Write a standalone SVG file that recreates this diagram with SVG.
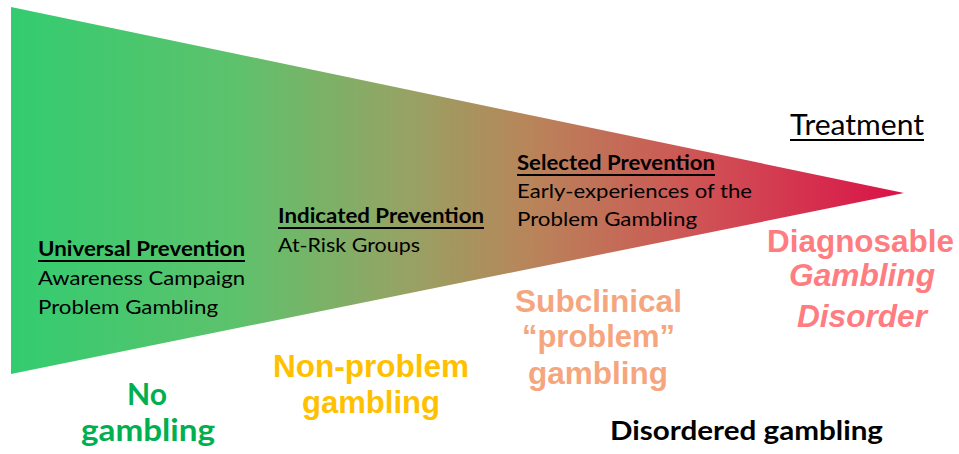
<svg xmlns="http://www.w3.org/2000/svg" width="959" height="454" viewBox="0 0 959 454">
  <defs>
    <linearGradient id="funnelGrad" gradientUnits="userSpaceOnUse" x1="11" y1="0" x2="904" y2="0">
      <stop offset="0" stop-color="#33cc70"/>
      <stop offset="0.25" stop-color="#5dc26c"/>
      <stop offset="0.44" stop-color="#96a364"/>
      <stop offset="0.58" stop-color="#b8855a"/>
      <stop offset="0.77" stop-color="#cf5355"/>
      <stop offset="1" stop-color="#da1248"/>
    </linearGradient>
  </defs>
  <style>
    .cal { font-family: Lato, "Open Sans", "Liberation Sans", sans-serif; fill: #000; }
    .hd { font-size: 20px; font-weight: bold; }
    .bd { font-size: 20px; }
    .big { font-family: "Liberation Sans", Arial, sans-serif; font-weight: bold; font-size: 31px; }
    .ul { stroke: #000; stroke-width: 2; }
  </style>
  <rect width="959" height="454" fill="#fff"/>
  <g id="funnel">
    <polygon points="11,7 904,193 11,374" fill="url(#funnelGrad)"/>
  </g>
  <g id="universal">
    <text class="cal hd" x="38" y="256" textLength="207" lengthAdjust="spacingAndGlyphs">Universal Prevention</text>
    <line class="ul" x1="38" y1="261" x2="245" y2="261"/>
    <text class="cal bd" x="38" y="285" textLength="207" lengthAdjust="spacingAndGlyphs">Awareness Campaign</text>
    <text class="cal bd" x="38" y="314" textLength="180" lengthAdjust="spacingAndGlyphs">Problem Gambling</text>
  </g>
  <g id="indicated">
    <text class="cal hd" x="278" y="223" textLength="206" lengthAdjust="spacingAndGlyphs">Indicated Prevention</text>
    <line class="ul" x1="278" y1="228" x2="484" y2="228"/>
    <text class="cal bd" x="278" y="252" textLength="142" lengthAdjust="spacingAndGlyphs">At-Risk Groups</text>
  </g>
  <g id="selected">
    <text class="cal hd" x="517" y="170" textLength="198" lengthAdjust="spacingAndGlyphs">Selected Prevention</text>
    <line class="ul" x1="517" y1="175" x2="715" y2="175"/>
    <text class="cal bd" x="517" y="198" textLength="235" lengthAdjust="spacingAndGlyphs">Early-experiences of the</text>
    <text class="cal bd" x="517" y="226" textLength="180" lengthAdjust="spacingAndGlyphs">Problem Gambling</text>
  </g>
  <g id="treatment">
    <text class="cal" x="790" y="135" font-size="29" textLength="134" lengthAdjust="spacingAndGlyphs">Treatment</text>
    <line class="ul" x1="790" y1="140" x2="924" y2="140"/>
  </g>
  <g id="diagnosable" fill="#ff7c80">
    <text class="big" x="767" y="252" textLength="187" lengthAdjust="spacingAndGlyphs">Diagnosable</text>
    <text class="big" x="789" y="286" font-style="italic" textLength="146" lengthAdjust="spacingAndGlyphs">Gambling</text>
    <text class="big" x="797" y="327" font-style="italic" textLength="130" lengthAdjust="spacingAndGlyphs">Disorder</text>
  </g>
  <g id="subclinical" fill="#f6a67e">
    <text class="big" x="515" y="312" textLength="167" lengthAdjust="spacingAndGlyphs">Subclinical</text>
    <text class="big" x="522" y="347" textLength="153" lengthAdjust="spacingAndGlyphs">“problem”</text>
    <text class="big" x="528" y="384" textLength="140" lengthAdjust="spacingAndGlyphs">gambling</text>
  </g>
  <g id="nonproblem" fill="#ffc000">
    <text class="big" x="273" y="377" textLength="196" lengthAdjust="spacingAndGlyphs">Non-problem</text>
    <text class="big" x="302" y="413" textLength="138" lengthAdjust="spacingAndGlyphs">gambling</text>
  </g>
  <g id="nogambling" fill="#00b050">
    <text x="127" y="405" font-family="Lato, 'Open Sans', 'Liberation Sans', sans-serif" font-weight="bold" font-size="31" textLength="40" lengthAdjust="spacingAndGlyphs">No</text>
    <text x="81" y="441" font-family="Lato, 'Open Sans', 'Liberation Sans', sans-serif" font-weight="bold" font-size="31" textLength="134" lengthAdjust="spacingAndGlyphs">gambling</text>
  </g>
  <g id="disordered">
    <text x="610" y="440" font-family="Lato, 'Open Sans', 'Liberation Sans', sans-serif" font-weight="bold" font-size="26" fill="#000" textLength="273" lengthAdjust="spacingAndGlyphs">Disordered gambling</text>
  </g>
  <g id="connectors"/>
</svg>
